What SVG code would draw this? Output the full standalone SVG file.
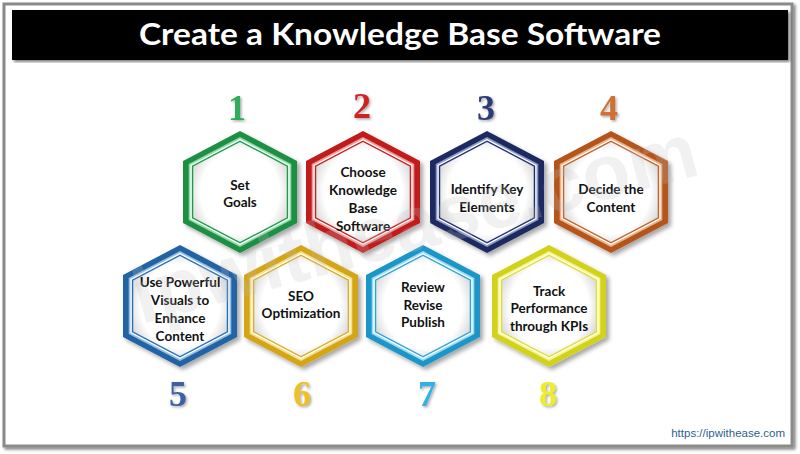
<svg xmlns="http://www.w3.org/2000/svg" xmlns:xlink="http://www.w3.org/1999/xlink" width="800" height="454" viewBox="0 0 800 454">
<style>
.lbl{font-family:Lato,"Open Sans","Liberation Sans",sans-serif;font-weight:700;font-size:13.5px;fill:#111;text-anchor:middle}
.num{font-family:"Liberation Serif","DejaVu Serif",serif;font-weight:700;font-size:36px;text-anchor:middle}
</style>
<defs>
<polygon id="hx" points="0,-61 57,-31 57,31 0,61 -57,31 -57,-31"/>
<radialGradient id="inner" cx="50%" cy="50%" r="60%">
<stop offset="0.7" stop-color="#ffffff"/>
<stop offset="1" stop-color="#cfcfcf"/>
</radialGradient>
<filter id="sh" x="-20%" y="-20%" width="140%" height="140%">
<feDropShadow dx="3" dy="3" stdDeviation="2" flood-color="#000" flood-opacity="0.35"/>
</filter>
<filter id="fsh" x="-5%" y="-5%" width="110%" height="110%">
<feDropShadow dx="2" dy="2" stdDeviation="1.5" flood-color="#000" flood-opacity="0.5"/>
</filter>
<filter id="nsh" x="-20%" y="-20%" width="140%" height="140%">
<feDropShadow dx="1.5" dy="1.5" stdDeviation="0.8" flood-color="#555" flood-opacity="0.5"/>
</filter>
</defs>
<rect x="0" y="0" width="800" height="454" fill="#ffffff"/>
<rect x="4" y="4" width="788" height="442" fill="#ffffff" stroke="#8a8a8a" stroke-width="3" filter="url(#fsh)"/>
<g id="title">
<rect x="12" y="10" width="776" height="50" fill="#000000" filter="url(#fsh)"/>
<text x="400" y="45" font-family="Lato,'Open Sans','Liberation Sans',sans-serif" font-weight="700" font-size="31" fill="#ffffff" text-anchor="middle" textLength="522" lengthAdjust="spacingAndGlyphs">Create a Knowledge Base Software</text>
</g>
<g id="connectors"></g>
<g id="n1" transform="translate(240,192)">
<use xlink:href="#hx" fill="#1b8f43" filter="url(#sh)"/>
<use xlink:href="#hx" transform="scale(0.9)" fill="#8fdcaa"/>
<use xlink:href="#hx" transform="scale(0.87)" fill="#ffffff"/>
<use xlink:href="#hx" transform="scale(0.845)" fill="#1f9a4b"/>
<use xlink:href="#hx" transform="scale(0.82)" fill="url(#inner)"/>
<text class="lbl" x="0" y="-2">Set</text>
<text class="lbl" x="0" y="15">Goals</text>
</g>
<g id="n2" transform="translate(363,192)">
<use xlink:href="#hx" fill="#c01a1a" filter="url(#sh)"/>
<use xlink:href="#hx" transform="scale(0.9)" fill="#f29a9a"/>
<use xlink:href="#hx" transform="scale(0.87)" fill="#ffffff"/>
<use xlink:href="#hx" transform="scale(0.845)" fill="#c82020"/>
<use xlink:href="#hx" transform="scale(0.82)" fill="url(#inner)"/>
<text class="lbl" x="0" y="-15">Choose</text>
<text class="lbl" x="0" y="3">Knowledge</text>
<text class="lbl" x="0" y="21">Base</text>
<text class="lbl" x="0" y="39">Software</text>
</g>
<g id="n3" transform="translate(487,192)">
<use xlink:href="#hx" fill="#1a2a60" filter="url(#sh)"/>
<use xlink:href="#hx" transform="scale(0.9)" fill="#8a98c8"/>
<use xlink:href="#hx" transform="scale(0.87)" fill="#ffffff"/>
<use xlink:href="#hx" transform="scale(0.845)" fill="#1f2f6b"/>
<use xlink:href="#hx" transform="scale(0.82)" fill="url(#inner)"/>
<text class="lbl" x="0" y="2">Identify Key</text>
<text class="lbl" x="0" y="20">Elements</text>
</g>
<g id="n4" transform="translate(611,192)">
<use xlink:href="#hx" fill="#b4561f" filter="url(#sh)"/>
<use xlink:href="#hx" transform="scale(0.9)" fill="#eeb28a"/>
<use xlink:href="#hx" transform="scale(0.87)" fill="#ffffff"/>
<use xlink:href="#hx" transform="scale(0.845)" fill="#c0622a"/>
<use xlink:href="#hx" transform="scale(0.82)" fill="url(#inner)"/>
<text class="lbl" x="0" y="2">Decide the</text>
<text class="lbl" x="0" y="20">Content</text>
</g>
<g id="n5" transform="translate(180,306)">
<use xlink:href="#hx" fill="#2163a4" filter="url(#sh)"/>
<use xlink:href="#hx" transform="scale(0.9)" fill="#94bfe8"/>
<use xlink:href="#hx" transform="scale(0.87)" fill="#ffffff"/>
<use xlink:href="#hx" transform="scale(0.845)" fill="#2a6fb0"/>
<use xlink:href="#hx" transform="scale(0.82)" fill="url(#inner)"/>
<text class="lbl" x="0" y="-19">Use Powerful</text>
<text class="lbl" x="0" y="-1">Visuals to</text>
<text class="lbl" x="0" y="17">Enhance</text>
<text class="lbl" x="0" y="35">Content</text>
</g>
<g id="n6" transform="translate(301,306)">
<use xlink:href="#hx" fill="#d4a514" filter="url(#sh)"/>
<use xlink:href="#hx" transform="scale(0.9)" fill="#f6e08a"/>
<use xlink:href="#hx" transform="scale(0.87)" fill="#ffffff"/>
<use xlink:href="#hx" transform="scale(0.845)" fill="#dcae20"/>
<use xlink:href="#hx" transform="scale(0.82)" fill="url(#inner)"/>
<text class="lbl" x="0" y="-5">SEO</text>
<text class="lbl" x="0" y="12">Optimization</text>
</g>
<g id="n7" transform="translate(423,306)">
<use xlink:href="#hx" fill="#1f96c8" filter="url(#sh)"/>
<use xlink:href="#hx" transform="scale(0.9)" fill="#9fdcf4"/>
<use xlink:href="#hx" transform="scale(0.87)" fill="#ffffff"/>
<use xlink:href="#hx" transform="scale(0.845)" fill="#2aa6d8"/>
<use xlink:href="#hx" transform="scale(0.82)" fill="url(#inner)"/>
<text class="lbl" x="0" y="-14">Review</text>
<text class="lbl" x="0" y="4">Revise</text>
<text class="lbl" x="0" y="21">Publish</text>
</g>
<g id="n8" transform="translate(549,306)">
<use xlink:href="#hx" fill="#d2d21c" filter="url(#sh)"/>
<use xlink:href="#hx" transform="scale(0.9)" fill="#f6f68e"/>
<use xlink:href="#hx" transform="scale(0.87)" fill="#ffffff"/>
<use xlink:href="#hx" transform="scale(0.845)" fill="#e0e028"/>
<use xlink:href="#hx" transform="scale(0.82)" fill="url(#inner)"/>
<text class="lbl" x="0" y="-10">Track</text>
<text class="lbl" x="0" y="7">Performance</text>
<text class="lbl" x="0" y="25">through KPIs</text>
</g>
<g id="numbers" filter="url(#nsh)">
<text class="num" x="237" y="120" fill="#2eae5a">1</text>
<text class="num" x="362" y="118" fill="#d02020">2</text>
<text class="num" x="486" y="120" fill="#2a3a7a">3</text>
<text class="num" x="609" y="120" fill="#d07030">4</text>
<text class="num" x="178" y="406" fill="#3a5fa8">5</text>
<text class="num" x="302" y="406" fill="#f0c020">6</text>
<text class="num" x="427" y="406" fill="#30b0e8">7</text>
<text class="num" x="548" y="406" fill="#eeee20">8</text>
</g>
<text x="415" y="250" transform="rotate(-15 415 225)" font-family="'Liberation Sans',sans-serif" font-weight="700" font-size="78" fill="#bdbdbd" fill-opacity="0.22" text-anchor="middle">ipwithease.com</text>
<text x="785" y="437" font-family="'Liberation Sans',sans-serif" font-size="11.5" fill="#2f5f8f" text-anchor="end">https://ipwithease.com</text>
</svg>
